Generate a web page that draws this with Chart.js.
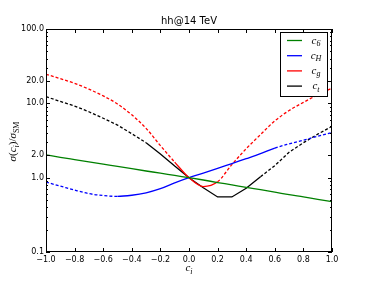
<!DOCTYPE html>
<html lang="en">
<head>
<meta charset="UTF-8">
<title>hh@14 TeV</title>
<script src="https://cdn.jsdelivr.net/npm/chart.js"></script>
<style>
  html, body { margin: 0; padding: 0; background: #fff; }
</style>
</head>
<body>
<canvas id="chart" width="369" height="281"></canvas>
<script>
// values
const ci = [-1.0, -0.9, -0.8, -0.7, -0.6, -0.5, -0.4, -0.3, -0.2, -0.1, 0.0,
             0.1,  0.2,  0.3,  0.4,  0.5,  0.6,  0.7,  0.8,  0.9, 1.0];
const c6 = [2.03, 1.88, 1.75, 1.63, 1.52, 1.42, 1.32, 1.23, 1.15, 1.07, 1.0,
            0.93, 0.86, 0.80, 0.74, 0.69, 0.64, 0.59, 0.55, 0.51, 0.475];
const cH = [0.87, 0.77, 0.68, 0.61, 0.575, 0.56, 0.58, 0.625, 0.71, 0.85, 1.0,
            1.15, 1.33, 1.55, 1.8, 2.1, 2.5, 2.85, 3.2, 3.6, 4.05];
const cg = [24.6, 21.5, 18.6, 15.5, 12.6, 9.8, 7.0, 4.6, 2.7, 1.62, 1.0,
            0.76, 0.88, 1.5, 2.45, 3.8, 5.8, 8.0, 10.3, 13.0, 16.0];
const ct = [12.3, 10.6, 9.2, 7.7, 6.3, 5.1, 3.9, 2.95, 2.08, 1.43, 1.0,
            0.73, 0.55, 0.55, 0.72, 1.03, 1.45, 2.2, 2.95, 3.85, 4.9];

// range of c_i where each curve is drawn solid (dashed outside)
const solid6 = [-1.0, 1.0];
const solidH = [-0.5, 0.6];
const solidG = [-0.1, 0.2];
const solidT = [-0.3, 0.5];

const names = [['c', '6'], ['c', 'H'], ['c', 'g'], ['c', 't']];
const yTicks = [0.1, 1, 2, 10, 20, 100];

function pts(arr) {
    return ci.map((x, i) => ({ x: x, y: arr[i] }));
}

function dashOutside(range) {
    return ctx => {
        const a = ctx.p0.parsed.x, b = ctx.p1.parsed.x;
        return (a >= range[0] - 1e-9 && b <= range[1] + 1e-9) ? [] : [3, 2];
    };
}

function series(label, arr, color, range, smooth) {
    return {
        label: label,
        data: pts(arr),
        borderColor: color,
        borderWidth: 1.3,
        pointRadius: 0,
        fill: false,
        cubicInterpolationMode: smooth ? 'monotone' : 'default',
        tension: 0,
        segment: { borderDash: dashOutside(range) }
    };
}

// draws mixed upright / italic / subscript text, like mathtext
function mathText(ctx, parts, x, y) {
    let w = 0;
    parts.forEach(p => { ctx.font = p[1]; w += ctx.measureText(p[0]).width; });
    let cx = x - w / 2;
    parts.forEach(p => {
        ctx.font = p[1];
        ctx.fillText(p[0], cx, y + (p[2] || 0));
        cx += ctx.measureText(p[0]).width;
    });
}

const serifI = 'italic 11px "Liberation Serif"';
const serifIs = 'italic 8px "Liberation Serif"';
const serifN = '11px "Liberation Serif"';
const serifNs = '8px "Liberation Serif"';

const decor = {
    id: 'decor',
    afterDraw(chart) {
        const { ctx, chartArea: a, scales: { x, y } } = chart;
        ctx.save();
        ctx.strokeStyle = '#000';
        ctx.lineWidth = 1;
        ctx.beginPath();
        // x ticks, inward, bottom and top
        x.ticks.forEach(t => {
            const px = Math.round(x.getPixelForValue(t.value)) + 0.5;
            ctx.moveTo(px, a.bottom); ctx.lineTo(px, a.bottom - 4);
            ctx.moveTo(px, a.top); ctx.lineTo(px, a.top + 4);
        });
        // y ticks, major and minor (log)
        for (let e = -1; e <= 1; e++) {
            for (let k = 1; k <= 9; k++) {
                const v = k * Math.pow(10, e);
                const major = yTicks.some(t => Math.abs(t - v) < 1e-9);
                const len = major ? 4 : 2;
                const py = Math.round(y.getPixelForValue(v)) + 0.5;
                ctx.moveTo(a.left, py); ctx.lineTo(a.left + len, py);
                ctx.moveTo(a.right, py); ctx.lineTo(a.right - len, py);
            }
        }
        ctx.stroke();
        // frame
        ctx.strokeRect(a.left + 0.5, a.top + 0.5, a.right - a.left - 1, a.bottom - a.top - 1);

        // title
        ctx.fillStyle = '#000';
        ctx.font = '10px "DejaVu Sans"';
        ctx.textAlign = 'center';
        ctx.textBaseline = 'middle';
        ctx.fillText('hh@14 TeV', (a.left + a.right) / 2, 21.5);

        // axis titles
        ctx.textAlign = 'left';
        ctx.textBaseline = 'alphabetic';
        mathText(ctx, [['c', serifI], ['i', serifIs, 2.5]], (a.left + a.right) / 2, 271);
        ctx.save();
        ctx.translate(16, (a.top + a.bottom) / 2 + 1);
        ctx.rotate(-Math.PI / 2);
        mathText(ctx, [['σ', serifI], ['(', serifN], ['c', serifI], ['i', serifIs, 2.5],
                       [')', serifN], ['/', serifN], ['σ', serifI], ['SM', serifNs, 2.5]], 0, 0);
        ctx.restore();

        // legend box
        const lx = 280.5, ly = 32.5, lw = 47, lh = 64;
        ctx.fillStyle = '#fff';
        ctx.fillRect(lx, ly, lw, lh);
        ctx.strokeStyle = '#000';
        ctx.strokeRect(lx, ly, lw, lh);
        chart.data.datasets.forEach((ds, i) => {
            const ry = 40.5 + i * 15.2;
            ctx.strokeStyle = ds.borderColor;
            ctx.lineWidth = 1.3;
            ctx.beginPath();
            ctx.moveTo(287, ry); ctx.lineTo(302, ry);
            ctx.stroke();
            ctx.fillStyle = '#000';
            mathText(ctx, [['c', serifI], [names[i][1], serifIs, 2.5]], 316, ry + 3);
        });
        ctx.restore();
    }
};

new Chart(document.getElementById('chart'), {
    type: 'line',
    data: {
        datasets: [
            series('c6', c6, '#008000', solid6, true),
            series('cH', cH, '#0000ff', solidH, true),
            series('cg', cg, '#ff0000', solidG, true),
            series('ct', ct, '#000000', solidT, false)
        ]
    },
    options: {
        responsive: false,
        animation: false,
        layout: { padding: { top: 29, right: 37, left: 0, bottom: 0 } },
        plugins: {
            legend: { display: false },
            title: { display: false },
            tooltip: { enabled: false }
        },
        scales: {
            x: {
                type: 'linear',
                min: -1, max: 1,
                grid: { display: false, drawTicks: false },
                border: { display: false },
                afterFit: s => { s.height = 29; },
                ticks: {
                    stepSize: 0.2,
                    padding: 3,
                    color: '#000',
                    font: { family: 'DejaVu Sans', size: 8 },
                    maxRotation: 0,
                    callback: v => {
                        const n = Math.abs(v) < 1e-9 ? 0 : v;
                        return n.toFixed(1).replace('-', '\u2212');
                    }
                }
            },
            y: {
                type: 'logarithmic',
                min: 0.1, max: 100,
                grid: { display: false, drawTicks: false },
                border: { display: false },
                afterFit: s => { s.width = 46; },
                afterBuildTicks: s => { s.ticks = yTicks.map(v => ({ value: v })); },
                ticks: {
                    autoSkip: false,
                    padding: 2,
                    color: '#000',
                    font: { family: 'DejaVu Sans', size: 8 },
                    callback: v => Number(v).toFixed(1)
                }
            }
        }
    },
    plugins: [decor]
});
</script>
</body>
</html>
